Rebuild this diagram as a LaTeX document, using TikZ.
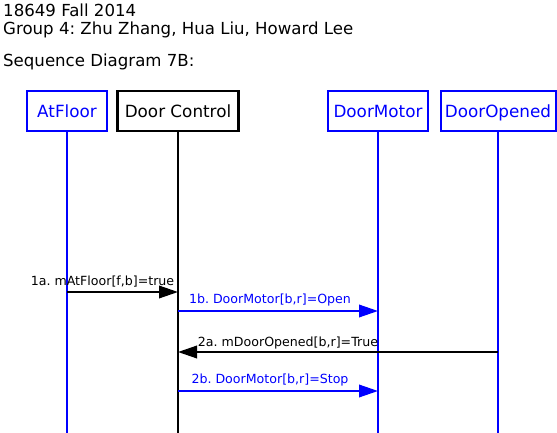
\documentclass[tikz,border=0pt]{standalone}
\usepackage{fontspec}
\setmainfont{DejaVu Sans}
\usetikzlibrary{arrows.meta}
\definecolor{pblue}{RGB}{0,0,255}
\frenchspacing
\tikzset{
  obj/.style={draw, line width=2pt, minimum height=40pt, inner sep=0pt, text height=14pt, text depth=0pt, font=\fontsize{16.8}{19}\selectfont, fill=white},
  bobj/.style={obj, draw=pblue, text=pblue},
  kobj/.style={obj, draw=black, text=black, line width=2.5pt},
  life/.style={line width=2pt},
  msg/.style={line width=2pt, -{Triangle[length=19pt,width=12.5pt]}},
  lbl/.style={font=\fontsize{12.6}{15}\selectfont, inner sep=0pt, anchor=base},
  title/.style={font=\fontsize{16.6}{19}\selectfont, inner sep=0pt, anchor=base west}
}
\begin{document}
\begin{tikzpicture}[x=1pt,y=-1pt]
\useasboundingbox (0,0) rectangle (557,433);
\node[title] (t1) at (3,17) {18649 Fall 2014};
\node[title] (t2) at (3,35) {Group 4: Zhu Zhang, Hua Liu, Howard Lee};
\node[title] (t3) at (3,67) {Sequence Diagram 7B:};

\node[bobj, minimum width=80pt] (af) at (67,111) {AtFloor};
\node[kobj, minimum width=121pt] (dc) at (178,111) {Door Control};
\node[bobj, minimum width=100pt] (dm) at (378,111) {DoorMotor};
\node[bobj, minimum width=115pt] (do) at (498,111) {DoorOpened};

\coordinate (afe) at (67,433);
\coordinate (dce) at (178,433);
\coordinate (dme) at (378,433);
\coordinate (doe) at (498,433);
\draw[life, pblue] (af.south) -- (afe);
\draw[life, black] (dc.south) -- (dce);
\draw[life, pblue] (dm.south) -- (dme);
\draw[life, pblue] (do.south) -- (doe);

\coordinate (m1s) at (67,292);
\coordinate (m1e) at (178,292);
\coordinate (m2s) at (178,311);
\coordinate (m2e) at (378,311);
\coordinate (m3s) at (498,352);
\coordinate (m3e) at (178,352);
\coordinate (m4s) at (178,391);
\coordinate (m4e) at (378,391);

\draw[msg, black] (m1s) -- (m1e);
\draw[msg, pblue] (m2s) -- (m2e);
\draw[msg, black] (m3s) -- (m3e);
\draw[msg, pblue] (m4s) -- (m4e);

\node[lbl] (l1) at (102.5,285) {1a. mAtFloor[f,b]=true};
\node[lbl, text=pblue] (l2) at (270,303) {1b. DoorMotor[b,r]=Open};
\node[lbl] (l3) at (288,346) {2a. mDoorOpened[b,r]=True};
\node[lbl, text=pblue] (l4) at (270,383) {2b. DoorMotor[b,r]=Stop};
\end{tikzpicture}
\end{document}
